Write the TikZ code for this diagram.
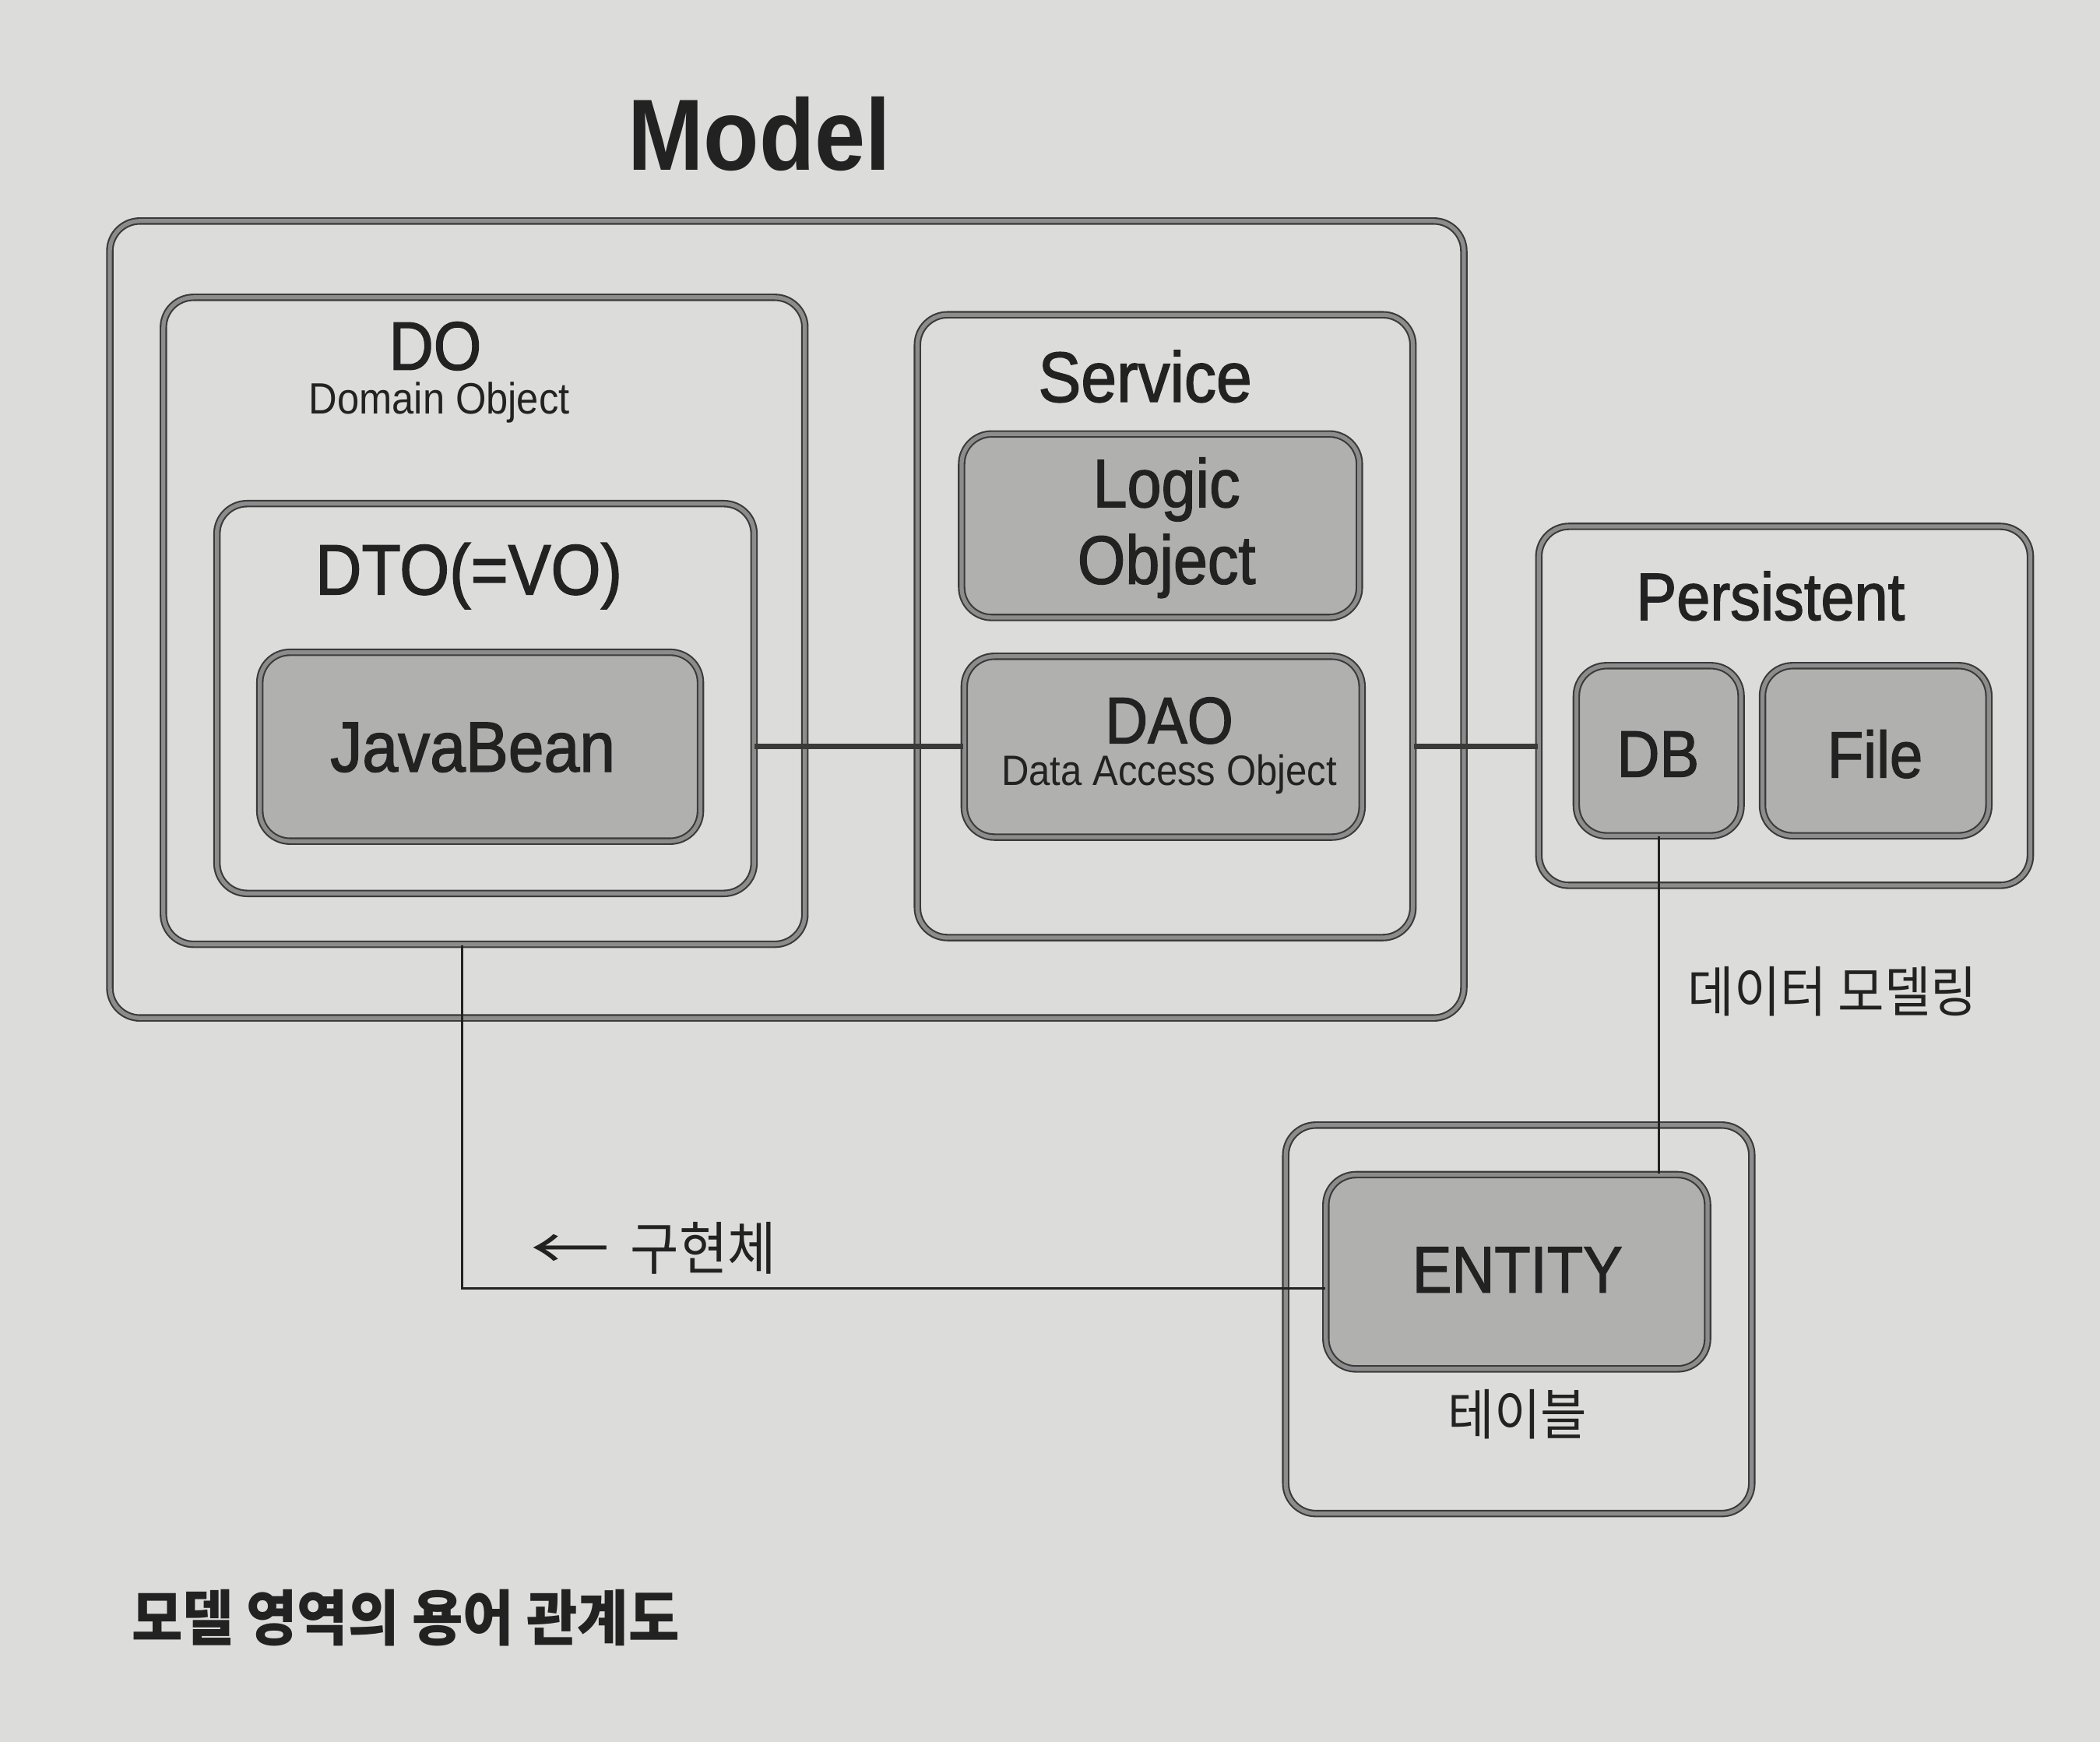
\documentclass[tikz,border=0pt]{standalone}
\usepackage{fontspec}
\setmainfont[FakeStretch=0.9]{Liberation Sans}
\newfontfamily\med[FakeStretch=0.9,FakeBold=1.6]{Liberation Sans}
\newfontfamily\kr[FakeStretch=0.92]{Noto Sans CJK KR}
\usetikzlibrary{fit}
\definecolor{paper}{HTML}{DCDCDA}
\definecolor{ink}{HTML}{222222}
\definecolor{edge}{HTML}{3A3A3A}
\definecolor{hatch}{HTML}{8C8C8C}
\definecolor{boxfill}{HTML}{B0B0AE}
\tikzset{
  frame/.style={draw=edge, line width=0.6pt, double=hatch, double distance=1.5pt,
                rounded corners=11pt, inner sep=0pt},
  solidbox/.style={frame, fill=boxfill},
  lbl/.style={text=ink, inner sep=0pt, anchor=center, align=center},
  thickwire/.style={draw=edge, line width=2pt},
  thinwire/.style={draw=ink, line width=1pt},
}
\newcommand{\fs}[1]{\fontsize{#1}{1.12\dimexpr #1pt\relax}\selectfont}
\begin{document}
\begin{tikzpicture}[x=0.0172cm,y=-0.0172cm]
\fill[paper] (0,0) rectangle (1568,1300.56);
\useasboundingbox (0,0) rectangle (1568,1300.56);

% boxes
\node[frame, fit={(82,165)(1093,760)}] (model) {};
\node[frame, fit={(122,222)(601,705)}] (do) {};
\node[frame, fit={(162,376)(563,667)}] (dto) {};
\node[solidbox, fit={(194,487)(523,628)}] (javabean) {};
\node[frame, fit={(685,235)(1055,700)}] (service) {};
\node[solidbox, fit={(718,324)(1015,461)}] (logic) {};
\node[solidbox, fit={(720,490)(1017,625)}] (dao) {};
\node[frame, fit={(1149,393)(1516,661)}] (persistent) {};
\node[solidbox, fit={(1177,497)(1300,624)}] (db) {};
\node[solidbox, fit={(1316,497)(1485,624)}] (file) {};
\node[frame, fit={(960,840)(1308,1130)}] (entitybox) {};
\node[solidbox, fit={(990,877)(1275,1022)}] (entity) {};

% texts
\node[lbl, font=\bfseries\fs{37}] (tmodel) at (567,100) {Model};
\node[lbl, font=\med\fs{25}, anchor=base] (tdo) at (325,276) {DO};
\node[lbl, font=\fs{16}, anchor=base] (tdomain) at (328,309) {Domain Object};
\node[lbl, font=\med\fs{26}] (tdto) at (350,430) {DTO(=VO)};
\node[lbl, font=\med\fs{26}] (tjava) at (353,558) {JavaBean};
\node[lbl, font=\med\fs{26}] (tservice) at (855,281) {Service};
\node[lbl, font=\med\fs{25}] (tlogic) at (871,394) {Logic\\Object};
\node[lbl, font=\med\fs{24}] (tdao) at (873,538) {DAO};
\node[lbl, font=\fs{15.5}] (tdaolong) at (873,578) {Data Access Object};
\node[lbl, font=\med\fs{24.5}] (tpers) at (1322,445) {Persistent};
\node[lbl, font=\med\fs{24}] (tdb) at (1238,563) {DB};
\node[lbl, font=\med\fs{24}] (tfile) at (1400,563) {File};
\node[lbl, font=\med\fs{24}] (tentity) at (1133,948) {ENTITY};
\node[lbl, font=\kr\fs{20}] (ttable) at (1133,1056) {테이블};
\node[lbl, font=\kr\fs{20}, anchor=west] (tmodeling) at (1260,740) {데이터 모델링};
\node[lbl, font=\kr\fs{21}, anchor=west] (timpl) at (396,932) {\scalebox{1.5}[1]{←}\hspace{0.35em}구현체};
\node[lbl, font=\kr\bfseries\fs{22}, anchor=west] (tcaption) at (98,1208) {모델 영역의 용어 관계도};

% connectors
\draw[thickwire] (javabean.east -| dto.east) -- (dao.west);
\draw[thickwire] (dao.east -| service.east) -- (dao.east -| persistent.west);
\draw[thinwire] (db.south) -- (db.south |- entity.north);
\draw[thinwire] ([xshift=-8pt]do.south) |- ([yshift=-6pt]entity.west);
\end{tikzpicture}
\end{document}
